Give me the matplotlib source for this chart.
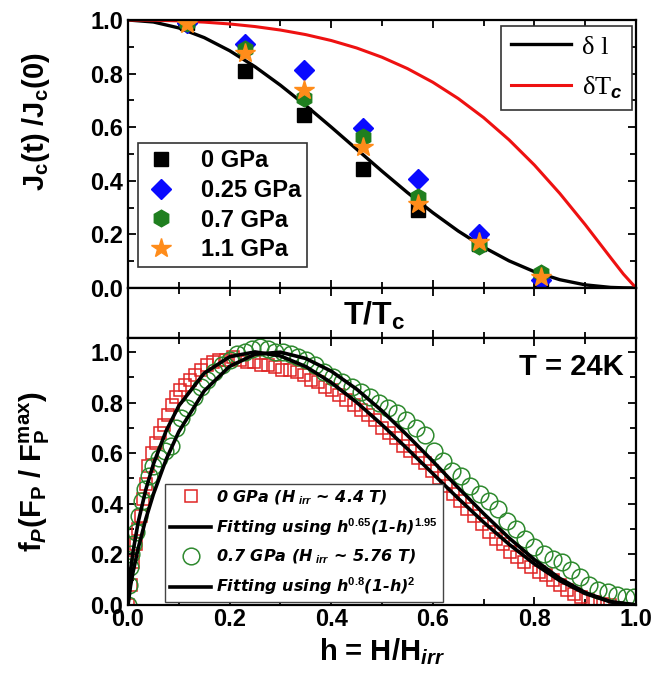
import numpy as np
import matplotlib
matplotlib.use('Agg')
import matplotlib.pyplot as plt
from matplotlib.ticker import MultipleLocator

plt.rcParams['font.family'] = ['Liberation Sans', 'DejaVu Sans']
plt.rcParams['font.weight'] = 'bold'
plt.rcParams['axes.labelweight'] = 'bold'
plt.rcParams['mathtext.fontset'] = 'custom'
plt.rcParams['mathtext.rm'] = 'Liberation Sans:bold'
plt.rcParams['mathtext.bf'] = 'Liberation Sans:bold'
plt.rcParams['mathtext.it'] = 'Liberation Sans:italic:bold'

# top panel: Jc(t)/Jc(0) vs T/Tc at four pressures
t_pts = [0.116, 0.230, 0.347, 0.463, 0.571, 0.690, 0.813]
jc_0gpa = [0.99, 0.81, 0.645, 0.444, 0.29, 0.165, 0.035]
jc_025gpa = [0.99, 0.91, 0.815, 0.597, 0.407, 0.20, 0.03]
jc_07gpa = [0.99, 0.89, 0.71, 0.563, 0.34, 0.155, 0.055]
jc_11gpa = [0.985, 0.875, 0.738, 0.526, 0.315, 0.17, 0.04]

# model curves
t_curve = [0.0, 0.05, 0.1, 0.15, 0.2, 0.25, 0.3, 0.35, 0.4, 0.45, 0.5, 0.55,
           0.6, 0.65, 0.7, 0.75, 0.8, 0.85, 0.9, 0.95, 0.975, 1.0]
dl_curve = [1.0, 0.9925, 0.9704, 0.9342, 0.8854, 0.8256, 0.7566, 0.6808, 0.6004,
            0.518, 0.4357, 0.356, 0.281, 0.2125, 0.1522, 0.1013, 0.0607, 0.0309,
            0.0117, 0.0022, 0.0006, 0.0]
dtc_curve = [1.0, 0.9992, 0.9966, 0.992, 0.9852, 0.9755, 0.9625, 0.9454, 0.9234,
             0.8956, 0.861, 0.8187, 0.7677, 0.7069, 0.6356, 0.5529, 0.4586, 0.3526,
             0.2362, 0.1131, 0.0522, 0.0]

# bottom panel: pinning force fp vs h
h_0gpa = [0.000, 0.005, 0.010, 0.015, 0.020, 0.025, 0.030, 0.035, 0.040, 0.047,
          0.055, 0.062, 0.070, 0.078, 0.086, 0.094, 0.103, 0.112, 0.122, 0.132,
          0.143, 0.155, 0.167, 0.180, 0.193, 0.207, 0.220, 0.234, 0.248, 0.262,
          0.276, 0.290, 0.304, 0.318, 0.332, 0.346, 0.360, 0.374, 0.388, 0.402,
          0.416, 0.430, 0.444, 0.458, 0.472, 0.486, 0.500, 0.514, 0.528, 0.542,
          0.556, 0.570, 0.584, 0.598, 0.612, 0.626, 0.640, 0.654, 0.668, 0.682,
          0.696, 0.710, 0.724, 0.738, 0.752, 0.766, 0.780, 0.794, 0.808, 0.822,
          0.836, 0.850, 0.864, 0.878, 0.892, 0.906, 0.920, 0.934, 0.948]
fp_0gpa = [0.00, 0.08, 0.17, 0.24, 0.30, 0.35, 0.42, 0.48, 0.55, 0.60,
           0.64, 0.68, 0.71, 0.75, 0.79, 0.82, 0.85, 0.87, 0.89, 0.91,
           0.93, 0.95, 0.96, 0.97, 0.97, 0.98, 0.97, 0.96, 0.96, 0.95,
           0.95, 0.94, 0.93, 0.93, 0.92, 0.91, 0.89, 0.88, 0.86, 0.85,
           0.83, 0.81, 0.79, 0.77, 0.75, 0.73, 0.70, 0.68, 0.66, 0.63,
           0.61, 0.58, 0.56, 0.53, 0.50, 0.47, 0.44, 0.41, 0.38, 0.35,
           0.32, 0.29, 0.26, 0.24, 0.21, 0.19, 0.17, 0.15, 0.13, 0.12,
           0.10, 0.08, 0.06, 0.045, 0.03, 0.02, 0.01, 0.005, 0.0]

h_07gpa = [0.000, 0.002, 0.004, 0.006, 0.010, 0.016, 0.022, 0.028, 0.034, 0.042,
           0.050, 0.060, 0.072, 0.085, 0.095, 0.105, 0.117, 0.130, 0.143, 0.156,
           0.170, 0.185, 0.200, 0.215, 0.230, 0.245, 0.260, 0.275, 0.290, 0.305,
           0.320, 0.335, 0.350, 0.368, 0.386, 0.404, 0.422, 0.440, 0.458, 0.476,
           0.494, 0.512, 0.530, 0.548, 0.566, 0.584, 0.602, 0.620, 0.638, 0.656,
           0.674, 0.692, 0.710, 0.728, 0.746, 0.764, 0.782, 0.800, 0.818, 0.836,
           0.854, 0.872, 0.890, 0.908, 0.926, 0.944, 0.962, 0.980, 0.995]
fp_07gpa = [0.00, 0.08, 0.15, 0.20, 0.24, 0.29, 0.35, 0.41, 0.46, 0.51,
            0.55, 0.58, 0.61, 0.63, 0.70, 0.74, 0.78, 0.82, 0.86, 0.89,
            0.92, 0.95, 0.97, 0.99, 1.00, 1.01, 1.02, 1.01, 1.00, 1.00,
            0.99, 0.98, 0.97, 0.95, 0.92, 0.90, 0.88, 0.86, 0.84, 0.82,
            0.80, 0.78, 0.76, 0.73, 0.70, 0.67, 0.61, 0.57, 0.53, 0.51,
            0.47, 0.44, 0.41, 0.38, 0.33, 0.30, 0.26, 0.23, 0.20, 0.18,
            0.17, 0.14, 0.11, 0.08, 0.06, 0.05, 0.04, 0.03, 0.03]

# fitted curves
h_fit = [0.0, 0.005, 0.01, 0.02, 0.035, 0.05, 0.075, 0.1, 0.15, 0.2, 0.25, 0.3,
         0.35, 0.4, 0.45, 0.5, 0.55, 0.6, 0.65, 0.7, 0.75, 0.8, 0.85, 0.9, 0.95, 1.0]
fit_0gpa = [0.0, 0.137, 0.212, 0.327, 0.456, 0.557, 0.688, 0.787, 0.916, 0.981,
            1.0, 0.984, 0.942, 0.879, 0.801, 0.712, 0.617, 0.519, 0.421, 0.327,
            0.240, 0.162, 0.096, 0.045, 0.012, 0.0]
fit_07gpa = [0.0, 0.076, 0.131, 0.224, 0.340, 0.438, 0.575, 0.685, 0.846, 0.943,
             0.991, 0.999, 0.974, 0.924, 0.853, 0.767, 0.670, 0.568, 0.463, 0.361,
             0.265, 0.179, 0.105, 0.049, 0.013, 0.0]

fig = plt.figure(figsize=(6.64, 6.87), dpi=100)
ax1 = fig.add_axes([0.1928, 0.5808, 0.7651, 0.3901])
axm = fig.add_axes([0.1928, 0.5080, 0.7651, 0.0728])
ax2 = fig.add_axes([0.1928, 0.1194, 0.7651, 0.3886])

# ---- top panel
l1, = ax1.plot(t_curve, dl_curve, color='k', lw=2.4)
l2, = ax1.plot(t_curve, dtc_curve, color='#ee1111', lw=2.2)
m1, = ax1.plot(t_pts, jc_0gpa, 's', color='k', ms=10, ls='none')
m2, = ax1.plot(t_pts, jc_025gpa, 'D', color='#0a0aff', ms=10.5, ls='none')
m3, = ax1.plot(t_pts, jc_07gpa, 'h', color='#1f7f1f', ms=12, ls='none')
m4, = ax1.plot(t_pts, jc_11gpa, '*', color='#ff8c1a', ms=15, ls='none')
ax1.set_xlim(0, 1)
ax1.set_ylim(0, 1)
ax1.set_ylabel(r'J$_\mathrm{c}$(t) /J$_\mathrm{c}$(0)', fontsize=21, fontweight='bold')
ax1.yaxis.set_label_coords(-0.15, 0.62)
ax1.tick_params(labelbottom=False)

leg1 = ax1.legend([m1, m2, m3, m4], ['0 GPa', '0.25 GPa', '0.7 GPa', '1.1 GPa'],
                  loc='lower left', bbox_to_anchor=(0.02, 0.078), fancybox=False,
                  edgecolor='#333333', framealpha=1, prop={'size': 17, 'weight': 'bold'},
                  handletextpad=1.0, labelspacing=0.28, borderpad=0.25,
                  handlelength=1.4, borderaxespad=0)
leg1.get_frame().set_linewidth(1.2)
ax1.add_artist(leg1)
leg2 = ax1.legend([l1, l2], ['δ l', r'δT$_{c}$'], loc='upper right',
                  bbox_to_anchor=(0.992, 0.978), fancybox=False, edgecolor='#333333',
                  framealpha=1, prop={'family': 'Liberation Serif', 'size': 19,
                                      'weight': 'normal'},
                  handlelength=2.3, handletextpad=0.4, labelspacing=0.6,
                  borderpad=0.35, borderaxespad=0)
leg2.get_frame().set_linewidth(1.2)

# ---- band with T/Tc label
axm.set_xlim(0, 1)
axm.set_yticks([])
axm.tick_params(labelbottom=False)
axm.text(0.485, 0.26, r'T/T$_\mathrm{c}$', transform=axm.transAxes, ha='center',
         va='baseline', fontsize=23, fontweight='bold')

# ---- bottom panel
r1, = ax2.plot(h_0gpa, fp_0gpa, 's', mfc='none', mec='#e02525', mew=1.1, ms=8, ls='none')
g1, = ax2.plot(h_07gpa, fp_07gpa, 'o', mfc='none', mec='#2f8a2f', mew=1.1, ms=12, ls='none')
f1, = ax2.plot(h_fit, fit_0gpa, color='k', lw=2.6)
f2, = ax2.plot(h_fit, fit_07gpa, color='k', lw=2.6)
ax2.set_xlim(0, 1)
ax2.set_ylim(0, 1.055)
ax2.set_xlabel(r'h = H/H$_{irr}$', fontsize=21, fontweight='bold', labelpad=4)
ax2.set_ylabel(r'f$_{P}$(F$_\mathrm{P}$ / F$_\mathrm{P}^\mathrm{max}$)', fontsize=21,
               fontweight='bold')
ax2.yaxis.set_label_coords(-0.15, 0.5)
ax2.text(0.975, 0.89, 'T = 24K', transform=ax2.transAxes, ha='right', va='center',
         fontsize=21, fontweight='bold')

leg3 = ax2.legend([r1, f1, g1, f2],
                  [r'0 GPa (H$_{\ irr}$ ~ 4.4 T)',
                   r'Fitting using h$^{\mathit{0.65}}$(1-h)$^{\mathit{1.95}}$',
                   r'0.7 GPa (H$_{\ irr}$ ~ 5.76 T)',
                   r'Fitting using h$^{\mathit{0.8}}$(1-h)$^{\mathit{2}}$'],
                  loc='lower left', bbox_to_anchor=(0.073, 0.011), fancybox=False,
                  edgecolor='#444444', framealpha=1,
                  prop={'family': 'DejaVu Sans', 'size': 11.5, 'style': 'italic',
                        'weight': 'bold'},
                  handlelength=2.6, handletextpad=0.3, labelspacing=0.6,
                  borderpad=0.3, borderaxespad=0)
leg3.get_frame().set_linewidth(1.0)

for ax in (ax1, axm, ax2):
    ax.xaxis.set_major_locator(MultipleLocator(0.2))
    ax.xaxis.set_minor_locator(MultipleLocator(0.1))
    ax.tick_params(which='both', direction='in', top=True, right=True, width=1.3,
                   labelsize=17)
    ax.tick_params(which='major', length=6)
    ax.tick_params(which='minor', length=4)
    for s in ax.spines.values():
        s.set_linewidth(1.6)
for ax in (ax1, ax2):
    ax.yaxis.set_major_locator(MultipleLocator(0.2))
    ax.yaxis.set_minor_locator(MultipleLocator(0.1))
    ax.yaxis.set_major_formatter('{x:.1f}')
ax2.xaxis.set_major_formatter('{x:.1f}')
ax2.tick_params(axis='x', pad=2)
for lab in ax1.get_yticklabels() + ax2.get_yticklabels() + ax2.get_xticklabels():
    lab.set_fontweight('bold')

fig.savefig('out.png', dpi=100)
